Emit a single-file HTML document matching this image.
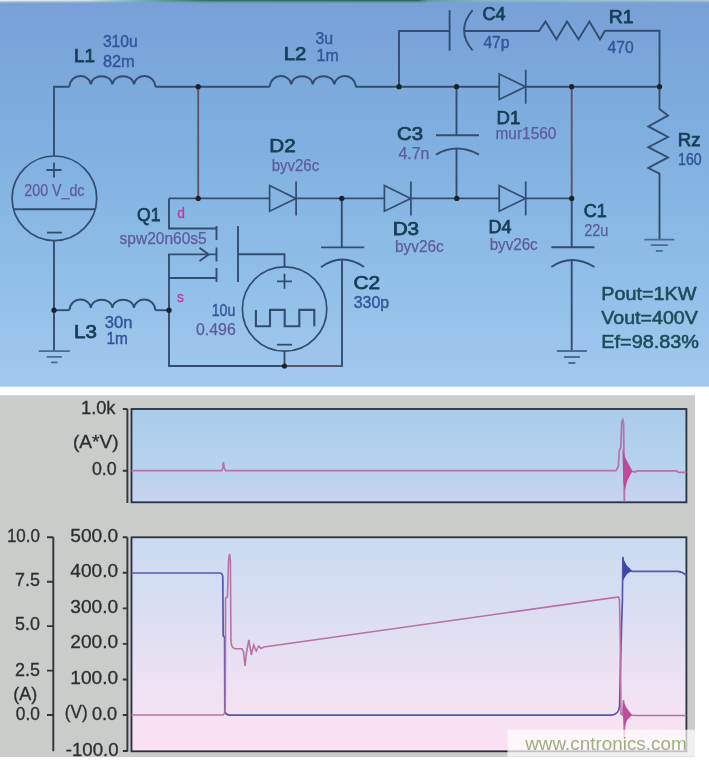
<!DOCTYPE html>
<html><head><meta charset="utf-8"><title>Boost converter simulation</title>
<style>
html,body{margin:0;padding:0;background:#fff;}
body{width:709px;height:760px;overflow:hidden;font-family:"Liberation Sans",sans-serif;}
svg{display:block;font-family:"Liberation Sans",sans-serif;}
</style></head><body>
<svg width="709" height="760" viewBox="0 0 709 760">
<defs>
<linearGradient id="bg" x1="0" y1="0" x2="0" y2="1">
<stop offset="0" stop-color="#78a0d7"/><stop offset="0.2" stop-color="#7ba9dc"/><stop offset="0.4" stop-color="#80b1e1"/><stop offset="0.75" stop-color="#91c0e8"/><stop offset="1" stop-color="#a3c8ee"/>
</linearGradient>
<linearGradient id="g1" x1="0" y1="0" x2="0" y2="1">
<stop offset="0" stop-color="#a9cbea"/><stop offset="0.6" stop-color="#b6d3ee"/><stop offset="1" stop-color="#c8d3ef"/>
</linearGradient>
<linearGradient id="g2" x1="0" y1="0" x2="0" y2="1">
<stop offset="0" stop-color="#c9dbf1"/><stop offset="0.35" stop-color="#dbdef2"/><stop offset="0.7" stop-color="#eee2f3"/><stop offset="0.85" stop-color="#f6e3f2"/><stop offset="1" stop-color="#fae0f0"/>
</linearGradient>
<linearGradient id="topstrip" x1="0" y1="0" x2="1" y2="0">
<stop offset="0" stop-color="#e4eff2"/><stop offset="0.12" stop-color="#cfe3e8"/><stop offset="0.2" stop-color="#6fb0b0"/><stop offset="0.29" stop-color="#2f7563"/><stop offset="0.59" stop-color="#2a6b5b"/><stop offset="0.605" stop-color="#5a9fa4"/><stop offset="0.68" stop-color="#86b6c6"/><stop offset="1" stop-color="#a9cad6"/>
</linearGradient>
<filter id="soft" x="-2%" y="-2%" width="104%" height="104%"><feGaussianBlur stdDeviation="0.6"/></filter>
<filter id="soft2" x="-2%" y="-2%" width="104%" height="104%"><feGaussianBlur stdDeviation="0.45"/></filter>
</defs>
<rect x="0" y="0" width="709" height="760" fill="#ffffff"/>
<rect x="0" y="0" width="709" height="386.7" fill="url(#bg)"/>
<rect x="0" y="0" width="709" height="1.4" fill="url(#topstrip)"/>
<rect x="0" y="1.4" width="709" height="1.3" fill="url(#topstrip)" opacity="0.35"/>
<g filter="url(#soft)" stroke-linecap="butt" stroke-linejoin="miter">
<path d="M54,156 V86.7 H69.4" stroke="#324e70" stroke-width="1.9" fill="none"/>
<path d="M69.4,86.7 C70.6,72.1 89.7,73.6 90.9,84.4 C92.1,73.6 111.2,73.6 112.4,84.4 C113.6,73.6 132.7,73.6 133.9,84.4 C135.1,73.6 154.2,72.1 155.4,86.7" stroke="#324e70" stroke-width="1.9" fill="none"/>
<path d="M155.2,86.7 H269.8" stroke="#324e70" stroke-width="1.9" fill="none"/>
<path d="M269.8,86.7 C271.0,72.1 290.1,73.6 291.3,84.4 C292.5,73.6 311.6,73.6 312.8,84.4 C314.0,73.6 333.1,73.6 334.3,84.4 C335.5,73.6 354.6,72.1 355.8,86.7" stroke="#324e70" stroke-width="1.9" fill="none"/>
<path d="M355.6,86.7 H499.3" stroke="#324e70" stroke-width="1.9" fill="none"/>
<path d="M525.3,86.7 H659.5" stroke="#324e70" stroke-width="1.9" fill="none"/>
<path d="M198.2,86.7 V198.4" stroke="#635268" stroke-width="1.9" fill="none"/>
<path d="M54,240.6 V351" stroke="#324e70" stroke-width="1.9" fill="none"/>
<path d="M54,310.2 H69.4" stroke="#324e70" stroke-width="1.9" fill="none"/>
<path d="M69.4,310.2 C70.6,295.6 89.7,297.1 90.9,307.9 C92.1,297.1 111.2,297.1 112.4,307.9 C113.6,297.1 132.7,297.1 133.9,307.9 C135.1,297.1 154.2,295.6 155.4,310.2" stroke="#324e70" stroke-width="1.9" fill="none"/>
<path d="M155.2,310.2 H169" stroke="#324e70" stroke-width="1.9" fill="none"/>
<path d="M38.8,351.2 H69.8 M46.8,356.8 H61.8 M51.05,362.4 H57.55" stroke="#4a6a9a" stroke-width="1.8" fill="none"/>
<circle cx="54.4" cy="198.3" r="42.3" stroke="#324e70" stroke-width="1.7" fill="none"/>
<path d="M13.4,209.3 H95.4" stroke="#324e70" stroke-width="1.9" fill="none"/>
<path d="M46.5,170 H61.5 M54,162.5 V177.5" stroke="#324e70" stroke-width="1.8" fill="none"/>
<path d="M47,232.6 H62" stroke="#324e70" stroke-width="1.8" fill="none"/>
<path d="M169,198.4 H269.5" stroke="#324e70" stroke-width="1.9" fill="none"/>
<path d="M296,198.4 H384.3" stroke="#324e70" stroke-width="1.9" fill="none"/>
<path d="M411,198.4 H499.3" stroke="#324e70" stroke-width="1.9" fill="none"/>
<path d="M525.3,198.4 H571.7" stroke="#324e70" stroke-width="1.9" fill="none"/>
<path d="M499.2,73.9 L525.5,86.7 L499.2,99.5 Z" stroke="#324e70" stroke-width="1.7" fill="none"/>
<path d="M525.7,69.7 V103.7" stroke="#324e70" stroke-width="1.7" fill="none"/>
<path d="M269.6,185.6 L295.90000000000003,198.4 L269.6,211.20000000000002 Z" stroke="#324e70" stroke-width="1.7" fill="none"/>
<path d="M296.1,181.4 V215.4" stroke="#324e70" stroke-width="1.7" fill="none"/>
<path d="M384.4,185.6 L410.7,198.4 L384.4,211.20000000000002 Z" stroke="#324e70" stroke-width="1.7" fill="none"/>
<path d="M410.9,181.4 V215.4" stroke="#324e70" stroke-width="1.7" fill="none"/>
<path d="M499.2,185.6 L525.5,198.4 L499.2,211.20000000000002 Z" stroke="#324e70" stroke-width="1.7" fill="none"/>
<path d="M525.7,181.4 V215.4" stroke="#324e70" stroke-width="1.7" fill="none"/>
<path d="M169,198.4 V228.5 H216.5" stroke="#324e70" stroke-width="1.9" fill="none"/>
<path d="M216.5,226 V240 M216.5,247.5 V261.5 M216.5,268 V282" stroke="#324e70" stroke-width="1.9" fill="none"/>
<path d="M216.5,254.4 H169 V366 H342 V259.6" stroke="#324e70" stroke-width="1.9" fill="none"/>
<path d="M169,278 H216.5" stroke="#324e70" stroke-width="1.9" fill="none"/>
<path d="M199.5,247.8 L208.6,254.4 L199.5,261" stroke="#324e70" stroke-width="1.9" fill="none"/>
<path d="M238,226 V282" stroke="#324e70" stroke-width="1.9" fill="none"/>
<path d="M238,254.2 H284.5 V266.8" stroke="#324e70" stroke-width="1.9" fill="none"/>
<circle cx="284.6" cy="309" r="42.2" stroke="#324e70" stroke-width="1.7" fill="none"/>
<path d="M277,281.3 H292 M284.5,273.8 V288.8" stroke="#324e70" stroke-width="1.8" fill="none"/>
<path d="M277,344.7 H292" stroke="#324e70" stroke-width="1.8" fill="none"/>
<path d="M255.9,309.9 V326.3 H270 V309.9 H284.7 V326.3 H299.3 V309.9 H314.3 V326.3" stroke="#324e70" stroke-width="2.1" fill="none"/>
<path d="M284.5,351.2 V366" stroke="#324e70" stroke-width="1.9" fill="none"/>
<path d="M284.5,366 H342" stroke="#635268" stroke-width="1.9" fill="none"/>
<path d="M341.8,198.4 V247.4" stroke="#324e70" stroke-width="1.9" fill="none"/>
<path d="M321,247.4 H364.2" stroke="#324e70" stroke-width="1.9" fill="none"/>
<path d="M321,267.3 Q341.8,252 364,267" stroke="#324e70" stroke-width="1.9" fill="none"/>
<path d="M456.5,86.7 V135.3" stroke="#324e70" stroke-width="1.9" fill="none"/>
<path d="M436,135.3 H479" stroke="#324e70" stroke-width="1.9" fill="none"/>
<path d="M436,154.6 Q456.5,142.5 479,154.6" stroke="#324e70" stroke-width="1.9" fill="none"/>
<path d="M456.5,148.6 V198.4" stroke="#324e70" stroke-width="1.9" fill="none"/>
<path d="M399,86.7 V31 H449.6" stroke="#324e70" stroke-width="1.9" fill="none"/>
<path d="M449.6,10.2 V50.8" stroke="#324e70" stroke-width="1.9" fill="none"/>
<path d="M472.6,10.2 Q455.5,30.5 472.6,50.5" stroke="#324e70" stroke-width="1.9" fill="none"/>
<path d="M464.2,31 H539 L545.5,21.6 L556.4,39.3 L567,21.6 L578.5,39.3 L589.4,21.6 L600,39.3 L605,30.7 H659.5 V86.7" stroke="#324e70" stroke-width="1.9" fill="none"/>
<path d="M571.7,86.7 V198.4" stroke="#635268" stroke-width="1.9" fill="none"/>
<path d="M571.7,198.4 V247.3" stroke="#324e70" stroke-width="1.9" fill="none"/>
<path d="M551.3,247.3 H594.5" stroke="#324e70" stroke-width="1.9" fill="none"/>
<path d="M551.3,267 Q571.7,253 594.5,267" stroke="#324e70" stroke-width="1.9" fill="none"/>
<path d="M571.7,260 V351" stroke="#324e70" stroke-width="1.9" fill="none"/>
<path d="M556.9,351 H586.9 M563.9,357 H579.9 M568.4,363 H575.4" stroke="#4a6a9a" stroke-width="1.8" fill="none"/>
<path d="M659.5,86.7 V109 L668,115.5 L648.3,126.4 L668,137 L648.3,147.2 L668,157.4 L648.3,168 L659.5,173.6 V239.6" stroke="#324e70" stroke-width="1.9" fill="none"/>
<path d="M644.3,239.6 H674.3 M650.8,245.2 H667.8 M655.8,250.79999999999998 H662.8" stroke="#4a6a9a" stroke-width="1.8" fill="none"/>
<circle cx="54" cy="310.2" r="2.6" fill="#1a2228"/>
<circle cx="169" cy="310.2" r="2.6" fill="#1a2228"/>
<circle cx="198.2" cy="86.7" r="2.6" fill="#1a2228"/>
<circle cx="198.2" cy="198.4" r="2.6" fill="#1a2228"/>
<circle cx="341.8" cy="198.4" r="2.6" fill="#1a2228"/>
<circle cx="399" cy="86.7" r="2.6" fill="#1a2228"/>
<circle cx="456.5" cy="86.7" r="2.6" fill="#1a2228"/>
<circle cx="456.8" cy="198.4" r="2.6" fill="#1a2228"/>
<circle cx="571.7" cy="86.7" r="2.6" fill="#1a2228"/>
<circle cx="571.7" cy="198.4" r="2.6" fill="#1a2228"/>
<circle cx="659.5" cy="86.7" r="2.6" fill="#1a2228"/>
<circle cx="284.5" cy="366" r="2.6" fill="#1a2228"/>
</g>
<g filter="url(#soft)">
<text x="74.1" y="62.1" font-size="18" fill="#193f56" stroke="#193f56" stroke-width="0.75" textLength="21.0" lengthAdjust="spacingAndGlyphs" >L1</text>
<text x="283.70000000000005" y="60.1" font-size="18" fill="#193f56" stroke="#193f56" stroke-width="0.75" textLength="22.6" lengthAdjust="spacingAndGlyphs" >L2</text>
<text x="74.1" y="338.2" font-size="18" fill="#193f56" stroke="#193f56" stroke-width="0.75" textLength="22.8" lengthAdjust="spacingAndGlyphs" >L3</text>
<text x="482.5" y="20.3" font-size="18" fill="#193f56" stroke="#193f56" stroke-width="0.75" textLength="23.0" lengthAdjust="spacingAndGlyphs" >C4</text>
<text x="608.8000000000001" y="23.4" font-size="18" fill="#193f56" stroke="#193f56" stroke-width="0.75" textLength="24.7" lengthAdjust="spacingAndGlyphs" >R1</text>
<text x="677.7" y="146.3" font-size="18" fill="#193f56" stroke="#193f56" stroke-width="0.75" textLength="22.8" lengthAdjust="spacingAndGlyphs" >Rz</text>
<text x="496.5" y="123.6" font-size="18" fill="#193f56" stroke="#193f56" stroke-width="0.75" textLength="23.7" lengthAdjust="spacingAndGlyphs" >D1</text>
<text x="269.3" y="152.1" font-size="18" fill="#193f56" stroke="#193f56" stroke-width="0.75" textLength="26.4" lengthAdjust="spacingAndGlyphs" >D2</text>
<text x="392.70000000000005" y="235" font-size="18" fill="#193f56" stroke="#193f56" stroke-width="0.75" textLength="26.4" lengthAdjust="spacingAndGlyphs" >D3</text>
<text x="488.6" y="233" font-size="18" fill="#193f56" stroke="#193f56" stroke-width="0.75" textLength="22.9" lengthAdjust="spacingAndGlyphs" >D4</text>
<text x="583.7" y="217.2" font-size="18" fill="#193f56" stroke="#193f56" stroke-width="0.75" textLength="23.0" lengthAdjust="spacingAndGlyphs" >C1</text>
<text x="353.40000000000003" y="288.6" font-size="18" fill="#193f56" stroke="#193f56" stroke-width="0.75" textLength="26.7" lengthAdjust="spacingAndGlyphs" >C2</text>
<text x="397.0" y="140.4" font-size="18" fill="#193f56" stroke="#193f56" stroke-width="0.75" textLength="26.0" lengthAdjust="spacingAndGlyphs" >C3</text>
<text x="137.0" y="221.1" font-size="18" fill="#193f56" stroke="#193f56" stroke-width="0.75" textLength="23.4" lengthAdjust="spacingAndGlyphs" >Q1</text>
<text x="102.9" y="46.800000000000004" font-size="15.8" fill="#31569a" stroke="#31569a" stroke-width="0.4" textLength="34.8" lengthAdjust="spacingAndGlyphs" >310u</text>
<text x="102.9" y="67.2" font-size="15.8" fill="#31569a" stroke="#31569a" stroke-width="0.4" textLength="31.8" lengthAdjust="spacingAndGlyphs" >82m</text>
<text x="315.4" y="44.2" font-size="15.8" fill="#31569a" stroke="#31569a" stroke-width="0.4" textLength="17.7" lengthAdjust="spacingAndGlyphs" >3u</text>
<text x="316.59999999999997" y="60.800000000000004" font-size="15.8" fill="#31569a" stroke="#31569a" stroke-width="0.4" textLength="22.1" lengthAdjust="spacingAndGlyphs" >1m</text>
<text x="104.7" y="328.2" font-size="15.8" fill="#31569a" stroke="#31569a" stroke-width="0.4" textLength="27.7" lengthAdjust="spacingAndGlyphs" >30n</text>
<text x="106.4" y="344.0" font-size="15.8" fill="#31569a" stroke="#31569a" stroke-width="0.4" textLength="21.3" lengthAdjust="spacingAndGlyphs" >1m</text>
<text x="483.4" y="48.400000000000006" font-size="15.8" fill="#31569a" stroke="#31569a" stroke-width="0.4" textLength="26.1" lengthAdjust="spacingAndGlyphs" >47p</text>
<text x="607.6" y="53.0" font-size="15.8" fill="#31569a" stroke="#31569a" stroke-width="0.4" textLength="26.1" lengthAdjust="spacingAndGlyphs" >470</text>
<text x="678.1" y="165.2" font-size="15.8" fill="#31569a" stroke="#31569a" stroke-width="0.4" textLength="23.6" lengthAdjust="spacingAndGlyphs" >160</text>
<text x="495.4" y="138.5" font-size="15.8" fill="#5e5b9b" stroke="#5e5b9b" stroke-width="0.25" textLength="61.1" lengthAdjust="spacingAndGlyphs" >mur1560</text>
<text x="271.7" y="171.2" font-size="15.8" fill="#5e5b9b" stroke="#5e5b9b" stroke-width="0.25" textLength="47.5" lengthAdjust="spacingAndGlyphs" >byv26c</text>
<text x="395.0" y="252.0" font-size="15.8" fill="#5e5b9b" stroke="#5e5b9b" stroke-width="0.25" textLength="48.7" lengthAdjust="spacingAndGlyphs" >byv26c</text>
<text x="489.7" y="249.7" font-size="15.8" fill="#5e5b9b" stroke="#5e5b9b" stroke-width="0.25" textLength="48.0" lengthAdjust="spacingAndGlyphs" >byv26c</text>
<text x="584.1999999999999" y="235.5" font-size="15.8" fill="#5e5b9b" stroke="#5e5b9b" stroke-width="0.25" textLength="24.2" lengthAdjust="spacingAndGlyphs" >22u</text>
<text x="353.7" y="307.9" font-size="15.8" fill="#31569a" stroke="#31569a" stroke-width="0.4" textLength="35.5" lengthAdjust="spacingAndGlyphs" >330p</text>
<text x="398.4" y="158.79999999999998" font-size="15.8" fill="#5e5b9b" stroke="#5e5b9b" stroke-width="0.25" textLength="31.1" lengthAdjust="spacingAndGlyphs" >4.7n</text>
<text x="119.60000000000001" y="244.39999999999998" font-size="15.8" fill="#5e5b9b" stroke="#5e5b9b" stroke-width="0.25" textLength="87.1" lengthAdjust="spacingAndGlyphs" >spw20n60s5</text>
<text x="24.299999999999997" y="196.0" font-size="15.8" fill="#5e5b9b" stroke="#5e5b9b" stroke-width="0.25" textLength="60.2" lengthAdjust="spacingAndGlyphs" >200 V_dc</text>
<text x="211.70000000000002" y="315.7" font-size="15.8" fill="#31569a" stroke="#31569a" stroke-width="0.4" textLength="23.6" lengthAdjust="spacingAndGlyphs" >10u</text>
<text x="196.0" y="335.0" font-size="15.8" fill="#5e5b9b" stroke="#5e5b9b" stroke-width="0.25" textLength="39.7" lengthAdjust="spacingAndGlyphs" >0.496</text>
<text x="177.2" y="217.8" font-size="13.8" fill="#bb3c98" stroke="#bb3c98" stroke-width="0.3">d</text>
<text x="177" y="302.2" font-size="13.8" fill="#bb3c98" stroke="#bb3c98" stroke-width="0.3">s</text>
<text x="601.3" y="299.5" font-size="18.5" fill="#1b4d57" stroke="#1b4d57" stroke-width="0.55" textLength="95.2" lengthAdjust="spacingAndGlyphs" >Pout=1KW</text>
<text x="601.3" y="323.6" font-size="18.5" fill="#1b4d57" stroke="#1b4d57" stroke-width="0.55" textLength="96.5" lengthAdjust="spacingAndGlyphs" >Vout=400V</text>
<text x="601.3" y="347.7" font-size="18.5" fill="#1b4d57" stroke="#1b4d57" stroke-width="0.55" textLength="97.7" lengthAdjust="spacingAndGlyphs" >Ef=98.83%</text>
</g>
<g filter="url(#soft2)">
<rect x="0" y="395.2" width="695" height="361.9" fill="#c9ccc9"/>
<rect x="131.5" y="409" width="554.9" height="93.3" fill="url(#g1)" stroke="#283040" stroke-width="1.8"/>
<rect x="131.5" y="537.3" width="554.9" height="214" fill="url(#g2)" stroke="#283040" stroke-width="1.8"/>
<path d="M127.4,409 V503 M122.8,409 H127.4 M122.8,470.8 H127.4" stroke="#30343a" stroke-width="1.9" fill="none"/>
<path d="M127.4,537.3 V751.5 M122.8,537.3 H127.4 M122.8,572.8 H127.4 M122.8,608.4 H127.4 M122.8,643.9 H127.4 M122.8,679.5 H127.4 M122.8,715 H127.4 M122.8,751 H127.4" stroke="#30343a" stroke-width="1.9" fill="none"/>
<path d="M53.3,537.3 V751.3 M47,537.3 H53.3 M47,581.7 H53.3 M47,626.1 H53.3 M47,670.6 H53.3 M47,715 H53.3" stroke="#30343a" stroke-width="1.9" fill="none"/>
<text x="81.0" y="413.79999999999995" font-size="17.6" fill="#2c2f33" stroke="#2c2f33" stroke-width="0.3" textLength="34.5" lengthAdjust="spacingAndGlyphs">1.0k</text>
<text x="72.89999999999999" y="447.59999999999997" font-size="17.6" fill="#2c2f33" stroke="#2c2f33" stroke-width="0.3" textLength="45.7" lengthAdjust="spacingAndGlyphs">(A*V)</text>
<text x="91.89999999999999" y="475.4" font-size="17.6" fill="#2c2f33" stroke="#2c2f33" stroke-width="0.3" textLength="24.7" lengthAdjust="spacingAndGlyphs">0.0</text>
<text x="70.3" y="541.6" font-size="17.6" fill="#2c2f33" stroke="#2c2f33" stroke-width="0.3" textLength="47.8" lengthAdjust="spacingAndGlyphs">500.0</text>
<text x="70.3" y="577.1" font-size="17.6" fill="#2c2f33" stroke="#2c2f33" stroke-width="0.3" textLength="47.8" lengthAdjust="spacingAndGlyphs">400.0</text>
<text x="70.3" y="612.6999999999999" font-size="17.6" fill="#2c2f33" stroke="#2c2f33" stroke-width="0.3" textLength="47.8" lengthAdjust="spacingAndGlyphs">300.0</text>
<text x="70.3" y="648.1999999999999" font-size="17.6" fill="#2c2f33" stroke="#2c2f33" stroke-width="0.3" textLength="47.8" lengthAdjust="spacingAndGlyphs">200.0</text>
<text x="70.3" y="684.1" font-size="17.6" fill="#2c2f33" stroke="#2c2f33" stroke-width="0.3" textLength="47.8" lengthAdjust="spacingAndGlyphs">100.0</text>
<text x="91.89999999999999" y="720.0" font-size="17.6" fill="#2c2f33" stroke="#2c2f33" stroke-width="0.3" textLength="25.2" lengthAdjust="spacingAndGlyphs">0.0</text>
<text x="64.8" y="718.4" font-size="17.6" fill="#2c2f33" stroke="#2c2f33" stroke-width="0.3" textLength="22.8" lengthAdjust="spacingAndGlyphs">(V)</text>
<text x="65.8" y="755.6" font-size="17.6" fill="#2c2f33" stroke="#2c2f33" stroke-width="0.3" textLength="52.8" lengthAdjust="spacingAndGlyphs">-100.0</text>
<text x="6.8999999999999995" y="541.6" font-size="17.6" fill="#2c2f33" stroke="#2c2f33" stroke-width="0.3" textLength="33.0" lengthAdjust="spacingAndGlyphs">10.0</text>
<text x="15.0" y="586.0" font-size="17.6" fill="#2c2f33" stroke="#2c2f33" stroke-width="0.3" textLength="24.9" lengthAdjust="spacingAndGlyphs">7.5</text>
<text x="15.0" y="630.1999999999999" font-size="17.6" fill="#2c2f33" stroke="#2c2f33" stroke-width="0.3" textLength="24.9" lengthAdjust="spacingAndGlyphs">5.0</text>
<text x="15.0" y="675.6" font-size="17.6" fill="#2c2f33" stroke="#2c2f33" stroke-width="0.3" textLength="24.9" lengthAdjust="spacingAndGlyphs">2.5</text>
<text x="13.3" y="699.6999999999999" font-size="17.6" fill="#2c2f33" stroke="#2c2f33" stroke-width="0.3" textLength="24.0" lengthAdjust="spacingAndGlyphs">(A)</text>
<text x="15.8" y="720.0" font-size="17.6" fill="#2c2f33" stroke="#2c2f33" stroke-width="0.3" textLength="24.1" lengthAdjust="spacingAndGlyphs">0.0</text>
<path d="M131.5,470.7 H221.6 L222.8,468 L223.4,462 L224.2,468 L225.6,470.7 H616 L618.3,466.5 L619.3,450 L620.8,447.5 L621.7,422 L622.8,419.8 L623.6,424 L624,456 L624.3,501.6 L624.7,470 L630,471 L635.5,472 L637,470.9 H676.5 L678.5,472.4 H686.4" stroke="#ba70a6" stroke-width="1.7" fill="none"/>
<path d="M622.4,448 L625.4,458 L632.4,471 L627.2,481 L625,490 L623.2,482 Z" fill="#c2489a"/>
<path d="M131.5,573 H219.5 Q222.6,573 222.8,577 L223.2,636 L224.6,637 L224.8,711 Q225.5,715 230,715.2 H611 Q618.8,715 619.6,706 L620.6,660 L621.6,625 L622.4,600 L622.9,556.8 L623.6,575 L626,568 L629,571 L633,571.3 H678 Q683,572 686.4,575.5" stroke="#5557ae" stroke-width="1.7" fill="none"/>
<path d="M622.5,557 L626.5,565 L632,570.8 L627,574 L624.8,577.5 L623,580.5 Z" fill="#3d49a6"/>
<path d="M131.5,715 H223 Q225,714 225.3,708 L225.6,598 L227.4,597 L228.6,560 L229.5,553.8 L230.4,560 L230.9,640 Q231.2,648 235,648.8 H242 L243.6,652 L245,666 L246.6,652 L248.8,640 L250.2,648 L251.3,655 L252.6,649 L253.8,645 L255.2,649 L256.3,651 L257.6,648 L258.8,646 L261,648.5 L264,647 L618.6,597 L619.5,600 L620.3,640 L621,714 L622.6,715 L623.6,700 L624.3,739 L625,715 L636,715.5 H686.4" stroke="#ba70a6" stroke-width="1.6" fill="none"/>
<path d="M622.8,700 L626,707 L632,715 L627,720 L624.6,727 L623.5,718 Z" fill="#c04a9a"/>
<rect x="507.5" y="729.7" width="201.5" height="27" fill="#ffffff" fill-opacity="0.7"/>
<text x="525.2" y="750" font-size="18.7" fill="#93a873" fill-opacity="0.9" textLength="161.5" lengthAdjust="spacingAndGlyphs">www.cntronics.com</text>
</g>
</svg>
</body></html>
